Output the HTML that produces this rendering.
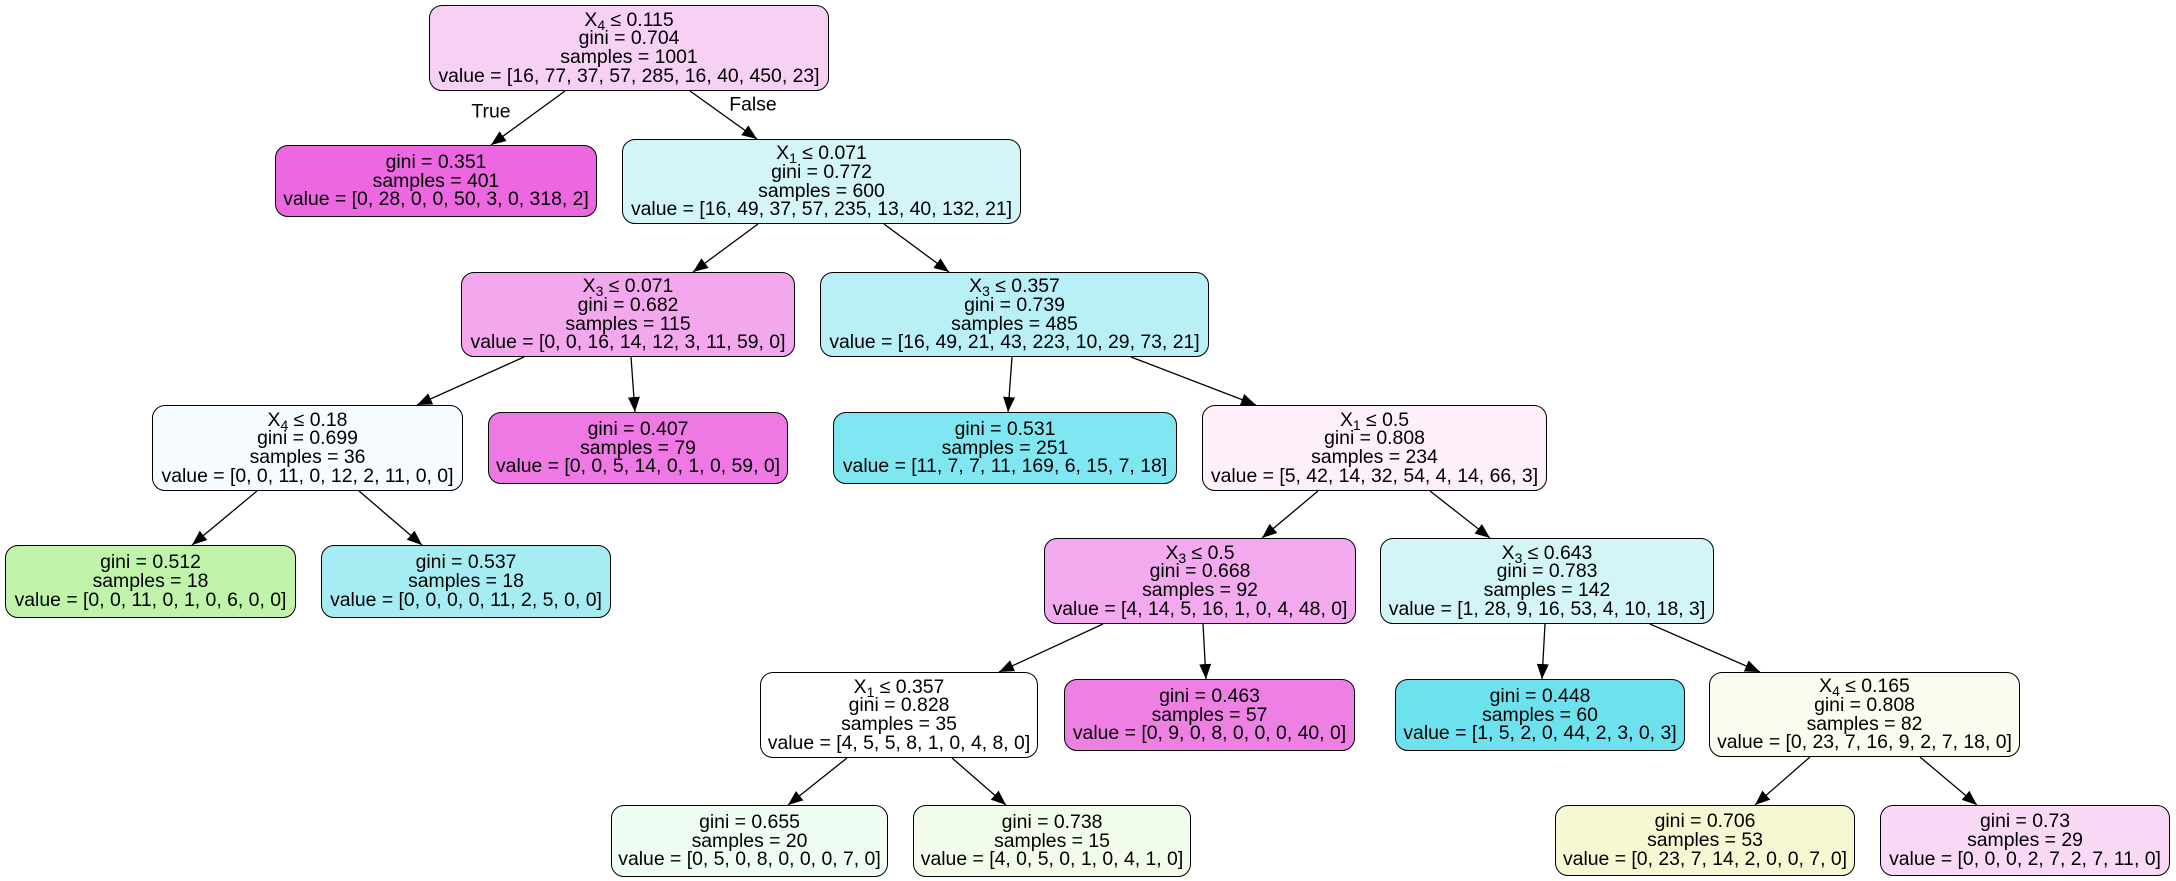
<!DOCTYPE html>
<html><head><meta charset="utf-8"><style>
html,body{margin:0;padding:0;background:#fff;}
body{width:2176px;height:881px;position:relative;overflow:hidden;font-family:"Liberation Sans",Arial,sans-serif;}
.n{position:absolute;box-sizing:border-box;border:1.4px solid #000;border-radius:13px;display:flex;flex-direction:column;justify-content:center;align-items:center;font-size:19.4px;line-height:18.7px;color:#000;white-space:nowrap;}
.n sub{font-size:14px;line-height:0;vertical-align:-4px;}
svg{position:absolute;left:0;top:0;}
.lbl{position:absolute;font-size:19.4px;transform:translate(-50%,-50%);}
</style></head><body>
<svg width="2176" height="881">
<defs><marker id="a" markerUnits="userSpaceOnUse" markerWidth="16" markerHeight="12" refX="15" refY="6" orient="auto"><path d="M0,0 L15,6 L0,12 z" fill="#000"/></marker></defs>
<g stroke="#000" stroke-width="1.3" marker-end="url(#a)">
<line x1="565" y1="91" x2="491" y2="145"/>
<line x1="690" y1="91" x2="757" y2="139"/>
<line x1="758" y1="224" x2="693" y2="272"/>
<line x1="884" y1="224" x2="949" y2="272"/>
<line x1="524" y1="357" x2="417" y2="405"/>
<line x1="631" y1="357" x2="635" y2="412"/>
<line x1="1012" y1="357" x2="1008" y2="412"/>
<line x1="1131" y1="357" x2="1256" y2="405"/>
<line x1="257" y1="491" x2="192" y2="545"/>
<line x1="359" y1="491" x2="422" y2="545"/>
<line x1="1318" y1="491" x2="1262" y2="538"/>
<line x1="1430" y1="491" x2="1490" y2="538"/>
<line x1="1103" y1="624" x2="999" y2="672"/>
<line x1="1203" y1="624" x2="1206" y2="679"/>
<line x1="1545" y1="624" x2="1542" y2="679"/>
<line x1="1650" y1="624" x2="1760" y2="672"/>
<line x1="847" y1="758" x2="788" y2="805"/>
<line x1="952" y1="758" x2="1006" y2="805"/>
<line x1="1810" y1="757" x2="1755" y2="805"/>
<line x1="1920" y1="757" x2="1977" y2="805"/>
</g></svg>
<div class="lbl" style="left:491px;top:112px">True</div>
<div class="lbl" style="left:753px;top:105px">False</div>

<div class="n" style="left:429px;top:5px;width:400px;height:86px;background:#f7d1f4"><div>X<sub>4</sub> ≤ 0.115</div><div>gini = 0.704</div><div>samples = 1001</div><div>value = [16, 77, 37, 57, 285, 16, 40, 450, 23]</div></div>
<div class="n" style="left:275px;top:145px;width:322px;height:72px;background:#ec67e0"><div>gini = 0.351</div><div>samples = 401</div><div>value = [0, 28, 0, 0, 50, 3, 0, 318, 2]</div></div>
<div class="n" style="left:622px;top:139px;width:399px;height:85px;background:#d3f5f8"><div>X<sub>1</sub> ≤ 0.071</div><div>gini = 0.772</div><div>samples = 600</div><div>value = [16, 49, 37, 57, 235, 13, 40, 132, 21]</div></div>
<div class="n" style="left:461px;top:272px;width:334px;height:85px;background:#f3a8ed"><div>X<sub>3</sub> ≤ 0.071</div><div>gini = 0.682</div><div>samples = 115</div><div>value = [0, 0, 16, 14, 12, 3, 11, 59, 0]</div></div>
<div class="n" style="left:820px;top:272px;width:389px;height:85px;background:#b9eff7"><div>X<sub>3</sub> ≤ 0.357</div><div>gini = 0.739</div><div>samples = 485</div><div>value = [16, 49, 21, 43, 223, 10, 29, 73, 21]</div></div>
<div class="n" style="left:152px;top:405px;width:311px;height:86px;background:#f5fbfe"><div>X<sub>4</sub> ≤ 0.18</div><div>gini = 0.699</div><div>samples = 36</div><div>value = [0, 0, 11, 0, 12, 2, 11, 0, 0]</div></div>
<div class="n" style="left:488px;top:412px;width:300px;height:72px;background:#ee78e4"><div>gini = 0.407</div><div>samples = 79</div><div>value = [0, 0, 5, 14, 0, 1, 0, 59, 0]</div></div>
<div class="n" style="left:833px;top:412px;width:344px;height:72px;background:#80e6f1"><div>gini = 0.531</div><div>samples = 251</div><div>value = [11, 7, 7, 11, 169, 6, 15, 7, 18]</div></div>
<div class="n" style="left:1202px;top:405px;width:345px;height:86px;background:#fdf0fb"><div>X<sub>1</sub> ≤ 0.5</div><div>gini = 0.808</div><div>samples = 234</div><div>value = [5, 42, 14, 32, 54, 4, 14, 66, 3]</div></div>
<div class="n" style="left:5px;top:545px;width:291px;height:73px;background:#c0f4aa"><div>gini = 0.512</div><div>samples = 18</div><div>value = [0, 0, 11, 0, 1, 0, 6, 0, 0]</div></div>
<div class="n" style="left:321px;top:545px;width:290px;height:73px;background:#a6edf3"><div>gini = 0.537</div><div>samples = 18</div><div>value = [0, 0, 0, 0, 11, 2, 5, 0, 0]</div></div>
<div class="n" style="left:1044px;top:538px;width:312px;height:86px;background:#f3a9ed"><div>X<sub>3</sub> ≤ 0.5</div><div>gini = 0.668</div><div>samples = 92</div><div>value = [4, 14, 5, 16, 1, 0, 4, 48, 0]</div></div>
<div class="n" style="left:1380px;top:538px;width:334px;height:86px;background:#d3f5f8"><div>X<sub>3</sub> ≤ 0.643</div><div>gini = 0.783</div><div>samples = 142</div><div>value = [1, 28, 9, 16, 53, 4, 10, 18, 3]</div></div>
<div class="n" style="left:760px;top:672px;width:278px;height:86px;background:#ffffff"><div>X<sub>1</sub> ≤ 0.357</div><div>gini = 0.828</div><div>samples = 35</div><div>value = [4, 5, 5, 8, 1, 0, 4, 8, 0]</div></div>
<div class="n" style="left:1064px;top:679px;width:291px;height:72px;background:#ee80e4"><div>gini = 0.463</div><div>samples = 57</div><div>value = [0, 9, 0, 8, 0, 0, 0, 40, 0]</div></div>
<div class="n" style="left:1395px;top:679px;width:290px;height:72px;background:#6de2ee"><div>gini = 0.448</div><div>samples = 60</div><div>value = [1, 5, 2, 0, 44, 2, 3, 0, 3]</div></div>
<div class="n" style="left:1709px;top:672px;width:311px;height:85px;background:#fbfbf0"><div>X<sub>4</sub> ≤ 0.165</div><div>gini = 0.808</div><div>samples = 82</div><div>value = [0, 23, 7, 16, 9, 2, 7, 18, 0]</div></div>
<div class="n" style="left:611px;top:805px;width:277px;height:72px;background:#effdf3"><div>gini = 0.655</div><div>samples = 20</div><div>value = [0, 5, 0, 8, 0, 0, 0, 7, 0]</div></div>
<div class="n" style="left:913px;top:805px;width:278px;height:72px;background:#f2fceb"><div>gini = 0.738</div><div>samples = 15</div><div>value = [4, 0, 5, 0, 1, 0, 4, 1, 0]</div></div>
<div class="n" style="left:1555px;top:805px;width:300px;height:71px;background:#f5f8d2"><div>gini = 0.706</div><div>samples = 53</div><div>value = [0, 23, 7, 14, 2, 0, 0, 7, 0]</div></div>
<div class="n" style="left:1880px;top:805px;width:290px;height:71px;background:#f9d9f5"><div>gini = 0.73</div><div>samples = 29</div><div>value = [0, 0, 0, 2, 7, 2, 7, 11, 0]</div></div>
</body></html>
